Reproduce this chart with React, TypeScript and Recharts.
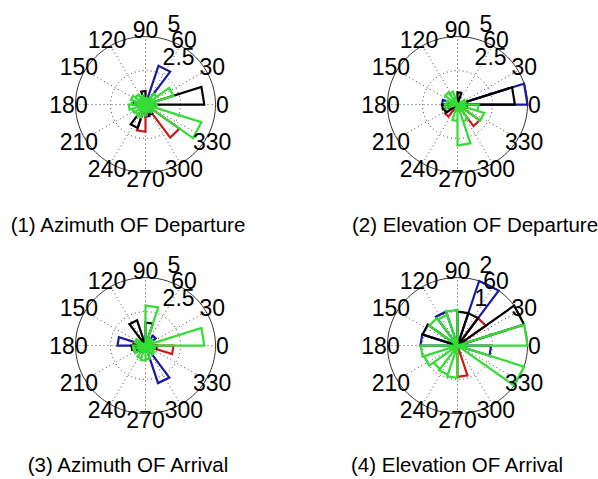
import React from 'react';
import { LineChart, Line, XAxis, YAxis, ReferenceDot } from 'recharts';

// rose bins: 20 bins of 18 degrees, bin i covers [18*i, 18*i + 18]
const BIN_DEG = 18;
const angleTicks = [0, 30, 60, 90, 120, 150, 180, 210, 240, 270, 300, 330];
const spokeAngles = [0, 30, 60, 90, 120, 150];
const radialTicksDep = [2.5, 5];
const radialTicksEoa = [1, 2];

// (1) Azimuth OF Departure
const aodBlue = [0, 0, 0, 3.0, 0, 0, 0, 0, 0, 0.9, 0, 0, 0, 0, 0, 0.9, 0, 0, 0, 0];
const aodRed = [0, 0, 0, 0, 0, 0, 0, 0, 0, 0, 0, 0, 0, 0, 2.0, 0, 0, 3.0, 0.6, 0];
const aodBlack = [4.2, 0, 0, 0, 0, 1.0, 0, 0, 0, 0.5, 0, 0, 0, 1.8, 0, 0, 0.8, 0, 0, 0];
const aodGreen = [0.6, 2.1, 1.0, 0.5, 0.4, 0.5, 0.7, 0.9, 1.1, 1.0, 1.2, 1.0, 0.9, 1.0, 0.8, 0.6, 0.5, 0.7, 4.2, 0.8];

// (2) Elevation OF Departure
const eodBlue = [5.0, 0, 0, 0, 0, 0, 0, 0, 0, 1.1, 0, 0, 0, 0, 0, 0, 0, 0, 0, 0];
const eodRed = [0, 0, 0, 0, 0, 0, 0, 0, 0, 0, 0, 1.0, 1.1, 0, 0, 0, 0, 1.95, 0, 0];
const eodBlack = [4.1, 0, 0, 0, 0.9, 0, 0, 0, 0, 0, 1.1, 1.0, 0, 0, 0, 0, 0, 0, 0, 0.7];
const eodGreen = [0.5, 0.6, 0, 0, 0, 0, 1.0, 1.1, 0, 0.8, 0.9, 0, 0, 0, 1.2, 3.0, 1.3, 0, 2.0, 1.5];

// (3) Azimuth OF Arrival
const aoaBlue = [0, 0, 0.9, 0, 0, 0, 0, 0, 0, 2.0, 0, 0, 0.6, 0, 0, 0, 2.9, 0, 0, 0];
const aoaRed = [0, 0, 0, 0, 0, 0, 0, 0, 0, 0.9, 0.7, 0.9, 0, 0, 0, 0, 0, 0, 0, 2.0];
const aoaBlack = [0, 0, 0, 0, 1.7, 0, 1.95, 0, 0, 0.8, 1.0, 0.7, 0, 0, 0, 0, 0, 0, 0, 0.8];
const aoaGreen = [4.2, 0, 0.6, 0, 2.95, 0, 0, 0, 0.8, 0, 0.9, 0.9, 0, 1.0, 1.1, 1.0, 0, 0.8, 0, 0.7];

// (4) Elevation OF Arrival
const eoaBlue = [0, 0, 0, 2.0, 0, 0, 1.05, 0, 0, 1.06, 0, 0, 0, 0, 0, 0, 0, 0, 0, 0.96];
const eoaRed = [0, 0, 1.0, 0, 0, 0, 0, 0, 0, 0, 0, 0, 0, 0, 0, 0.92, 0, 0, 0, 0];
const eoaBlack = [0, 2.0, 0, 1.0, 1.0, 0, 0, 0, 1.05, 0, 0, 0, 0, 0, 0, 0, 0, 0, 0, 0];
const eoaGreen = [2.0, 0, 0, 0, 0, 1.05, 0.95, 1.0, 0, 0, 1.05, 1.0, 0.85, 0.9, 0.95, 0, 0, 0, 2.0, 0];

const BLUE = '#1a1a9e';
const RED = '#cc1a1a';
const BLACK = '#000000';
const GREEN = '#33dd33';
const FONT = '"Liberation Sans", Arial, sans-serif';

const RX = 70; // px per rmax, horizontal
const RY = 68; // px per rmax, vertical
const K = 1.45; // domain padding for labels

const rad = (d: number) => (d * Math.PI) / 180;

function rosePoints(counts: number[]) {
  const pts: { x: number; y: number }[] = [];
  counts.forEach((c, i) => {
    if (!c) return;
    const a1 = rad(i * BIN_DEG);
    const a2 = rad((i + 1) * BIN_DEG);
    pts.push(
      { x: 0, y: 0 },
      { x: c * Math.cos(a1), y: c * Math.sin(a1) },
      { x: c * Math.cos(a2), y: c * Math.sin(a2) },
      { x: 0, y: 0 }
    );
  });
  return pts;
}

function circlePoints(r: number) {
  return Array.from({ length: 121 }, (_, i) => ({
    x: r * Math.cos(rad(i * 3)),
    y: r * Math.sin(rad(i * 3)),
  }));
}

type Props = {
  cx: number;
  cy: number;
  rticks: number[];
  blue: number[];
  red: number[];
  black: number[];
  green: number[];
};

function PolarRose({ cx, cy, rticks, blue, red, black, green }: Props) {
  const rmax = rticks[rticks.length - 1];
  const D = rmax * K;
  const w = 2 * RX * K;
  const h = 2 * RY * K;
  const rinc = rticks[0];

  return (
    <div style={{ position: 'absolute', left: cx - w / 2, top: cy - h / 2 }}>
      <LineChart width={w} height={h} margin={{ top: 0, right: 0, bottom: 0, left: 0 }}>
        <XAxis type="number" dataKey="x" domain={[-D, D]} hide allowDataOverflow />
        <YAxis type="number" domain={[-D, D]} hide allowDataOverflow />
        <Line
          data={circlePoints(rmax)}
          dataKey="y"
          stroke="#333"
          strokeWidth={1}
          dot={false}
          isAnimationActive={false}
        />
        {rticks.slice(0, -1).map((t) => (
          <Line
            key={'ring' + t}
            data={circlePoints(t)}
            dataKey="y"
            stroke="#444"
            strokeWidth={1}
            strokeDasharray="1 3"
            dot={false}
            isAnimationActive={false}
          />
        ))}
        {spokeAngles.map((a) => (
          <Line
            key={'spoke' + a}
            data={[
              { x: -rmax * Math.cos(rad(a)), y: -rmax * Math.sin(rad(a)) },
              { x: rmax * Math.cos(rad(a)), y: rmax * Math.sin(rad(a)) },
            ]}
            dataKey="y"
            stroke="#444"
            strokeWidth={1}
            strokeDasharray="1 3"
            dot={false}
            isAnimationActive={false}
          />
        ))}
        {[
          { c: blue, col: BLUE },
          { c: red, col: RED },
          { c: black, col: BLACK },
          { c: green, col: GREEN },
        ].map((s, i) => (
          <Line
            key={'rose' + i}
            data={rosePoints(s.c)}
            dataKey="y"
            stroke={s.col}
            strokeWidth={2.2}
            strokeLinejoin="miter"
            dot={false}
            isAnimationActive={false}
          />
        ))}
        {angleTicks.map((a) => (
          <ReferenceDot
            key={'ang' + a}
            x={1.1 * rmax * Math.cos(rad(a))}
            y={1.1 * rmax * Math.sin(rad(a))}
            r={1}
            shape={(p: any) => (
              <text
                x={p.cx}
                y={p.cy}
                textAnchor="middle"
                dominantBaseline="central"
                fontSize={23}
                fontFamily={FONT}
                fill="#000"
              >
                {a}
              </text>
            )}
          />
        ))}
        {rticks.map((t) => (
          <ReferenceDot
            key={'rt' + t}
            x={(t + rinc / 20) * Math.cos(rad(82))}
            y={(t + rinc / 20) * Math.sin(rad(82))}
            r={1}
            shape={(p: any) => (
              <text
                x={p.cx + 12}
                y={p.cy - 4}
                textAnchor="start"
                fontSize={23}
                fontFamily={FONT}
                fill="#000"
              >
                {t}
              </text>
            )}
          />
        ))}
      </LineChart>
    </div>
  );
}

const titleStyle = (x: number, y: number): React.CSSProperties => ({
  position: 'absolute',
  left: x - 150,
  top: y - 12,
  width: 300,
  textAlign: 'center',
  fontSize: 20.5,
  fontFamily: FONT,
  color: '#000',
  lineHeight: '24px',
  whiteSpace: 'nowrap',
});

export default function App() {
  return (
    <div
      style={{
        position: 'fixed',
        left: 0,
        top: 0,
        width: 598,
        height: 479,
        background: '#fff',
        overflow: 'hidden',
      }}
    >
      <PolarRose cx={145} cy={105} rticks={radialTicksDep} blue={aodBlue} red={aodRed} black={aodBlack} green={aodGreen} />
      <PolarRose cx={457} cy={105} rticks={radialTicksDep} blue={eodBlue} red={eodRed} black={eodBlack} green={eodGreen} />
      <PolarRose cx={145} cy={346} rticks={radialTicksDep} blue={aoaBlue} red={aoaRed} black={aoaBlack} green={aoaGreen} />
      <PolarRose cx={457} cy={346} rticks={radialTicksEoa} blue={eoaBlue} red={eoaRed} black={eoaBlack} green={eoaGreen} />
      <div style={titleStyle(128, 225)}>(1) Azimuth OF Departure</div>
      <div style={titleStyle(475, 225)}>(2) Elevation OF Departure</div>
      <div style={titleStyle(128, 465)}>(3) Azimuth OF Arrival</div>
      <div style={titleStyle(457, 465)}>(4) Elevation OF Arrival</div>
    </div>
  );
}
